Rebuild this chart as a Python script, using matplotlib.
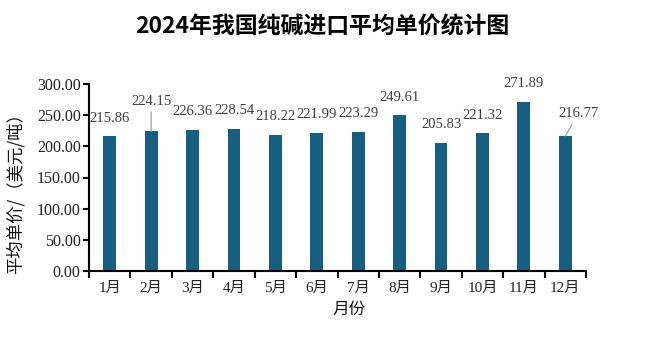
import matplotlib
matplotlib.use("Agg")
import matplotlib.pyplot as plt
import numpy as np

months = ["1月", "2月", "3月", "4月", "5月", "6月", "7月", "8月", "9月", "10月", "11月", "12月"]
prices = [215.86, 224.15, 226.36, 228.54, 218.22, 221.99, 223.29, 249.61, 205.83, 221.32, 271.89, 216.77]
yticks = [0, 50, 100, 150, 200, 250, 300]

title = "2024年我国纯碱进口平均单价统计图"
ylabel = "平均单价/（美元/吨）"
xlabel = "月份"

serif = ["Liberation Serif", "Noto Sans CJK SC"]
cjk = ["Noto Sans CJK SC", "DejaVu Sans"]

fig = plt.figure(figsize=(6.47, 3.57), dpi=100)
ax = fig.add_axes([89/647, 1-271/357, (586-89)/647, (271-84)/357])

x = np.arange(len(months))
bars = ax.bar(x, prices, width=0.31, color="#175e80", zorder=2)

ax.set_xlim(-0.5, len(months) - 0.5)
ax.set_ylim(0, 300)
ax.set_yticks(yticks)
ax.set_yticklabels([f"{v:.2f}" for v in yticks], family=serif, fontsize=11.5, color="#222222")
ax.set_xticks(x)
ax.set_xticklabels(months, family=serif, fontsize=11, color="#222222")
ax.tick_params(axis="x", length=0, pad=8)
ax.set_xticks(np.arange(-0.5, len(months)), minor=True)
ax.tick_params(axis="x", which="minor", length=5, width=1.5, direction="out", color="black")
ax.tick_params(axis="y", length=4, width=1.5, direction="out", color="black", pad=2)

for s in ["top", "right"]:
    ax.spines[s].set_visible(False)
for s in ["left", "bottom"]:
    ax.spines[s].set_linewidth(1.5)
    ax.spines[s].set_color("black")

# data labels
offsets = {1: (0, 30), 11: (13, 22)}
for i, v in enumerate(prices):
    dx, dy = offsets.get(i, (0, 18))
    kw = {}
    if i in offsets:
        kw["arrowprops"] = dict(arrowstyle="-", color="#a0a0a0", lw=0.9, shrinkA=1, shrinkB=0)
    ax.annotate(f"{v:.2f}", xy=(i, v), xytext=(dx * 0.72, dy * 0.72), textcoords="offset points",
                ha="center", va="center", family=serif, fontsize=10.5, color="#404040", **kw)

fig.text(322/647, 1-27/357, title, ha="center", va="center", family=cjk, fontsize=16.5, fontweight="bold")
fig.text(15/647, 1-189/357, ylabel, ha="center", va="center", rotation=90, family=cjk, fontsize=12.5, color="#111111")
fig.text(349/647, 1-309/357, xlabel, ha="center", va="center", family=cjk, fontsize=12, color="#111111")

fig.savefig("out.png", dpi=100)
